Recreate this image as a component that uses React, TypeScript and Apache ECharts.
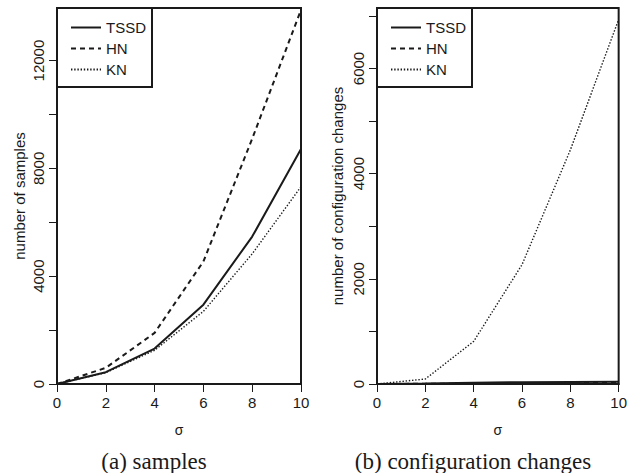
import React, { useEffect, useRef } from "react";
import * as echarts from "echarts";

const sigma = [0, 2, 4, 6, 8, 10];

const samplesTSSD = [0, 437, 1314, 2942, 5470, 8716];
const samplesHN = [0, 600, 1895, 4545, 9100, 13880];
const samplesKN = [0, 420, 1250, 2695, 4830, 7321];

const changesTSSD = [0, 10, 25, 35, 40, 45];
const changesHN = [0, 4, 8, 12, 16, 20];
const changesKN = [0, 95, 810, 2268, 4450, 6930];

const xTicks = [0, 2, 4, 6, 8, 10];
const leftLabels = [0, 4000, 8000, 12000];
const rightLabels = [0, 2000, 4000, 6000];

const seriesNames = ["TSSD", "HN", "KN"];
const captionA = "(a) samples";
const captionB = "(b) configuration changes";

const SANS = "Liberation Sans, Arial, Helvetica, sans-serif";
const SERIF = "Liberation Serif, Times New Roman, serif";
const INK = "#1a1a1a";

function pairs(xs: number[], ys: number[]) {
  return xs.map((x, i) => [x, ys[i]]);
}

export default function App() {
  const ref = useRef<HTMLDivElement>(null);

  useEffect(() => {
    document.body.style.margin = "0";
    if (!ref.current) return;
    const chart = echarts.init(ref.current, null, { renderer: "svg" });

    const styles: Record<string, any> = {
      TSSD: { color: INK, width: 2, type: "solid" },
      HN: { color: INK, width: 2, type: [5, 4] },
      KN: { color: INK, width: 1.4, type: [1.4, 1.8] },
    };

    const xAxisBase = (gridIndex: number) => ({
      type: "value",
      gridIndex,
      min: xTicks[0],
      max: xTicks[xTicks.length - 1],
      interval: 2,
      name: "σ",
      nameLocation: "middle",
      nameGap: 39,
      nameTextStyle: { fontFamily: SANS, fontSize: 14, color: INK },
      axisLine: { show: true, onZero: false, lineStyle: { color: INK, width: 2 } },
      axisTick: { show: true, length: 8, lineStyle: { color: INK, width: 1 } },
      axisLabel: {
        show: true,
        margin: 11,
        fontFamily: SANS,
        fontSize: 15,
        color: INK,
      },
      splitLine: { show: false },
    });

    const yAxisBase = (
      gridIndex: number,
      max: number,
      interval: number,
      labelStep: number,
      name: string,
      labels: number[],
      nameGap: number
    ) => ({
      type: "value",
      gridIndex,
      min: 0,
      max,
      interval,
      name,
      nameLocation: "middle",
      nameRotate: 90,
      nameGap,
      nameTextStyle: { fontFamily: SANS, fontSize: 15, color: INK },
      axisLine: { show: true, onZero: false, lineStyle: { color: INK, width: 2 } },
      axisTick: { show: true, length: 8, lineStyle: { color: INK, width: 1 } },
      axisLabel: {
        show: true,
        rotate: 90,
        margin: 11,
        fontFamily: SANS,
        fontSize: 15,
        color: INK,
        showMaxLabel: false,
        formatter: (v: number) =>
          labels.indexOf(v) >= 0 && v % labelStep === 0 ? String(v) : "",
      },
      splitLine: { show: false },
    });

    const mkSeries = (name: string, data: number[], idx: number) => ({
      name,
      type: "line",
      xAxisIndex: idx,
      yAxisIndex: idx,
      data: pairs(sigma, data),
      symbol: "none",
      showSymbol: false,
      lineStyle: styles[name],
      itemStyle: { color: INK },
      z: name === "TSSD" ? 4 : 3,
    });

    const legendBase = (left: number) => ({
      show: true,
      orient: "vertical",
      left,
      top: 8,
      data: seriesNames,
      itemWidth: 30,
      itemHeight: 14,
      itemGap: 6,
      padding: [12, 6, 10, 13],
      borderColor: INK,
      borderWidth: 2,
      borderRadius: 0,
      backgroundColor: "#fff",
      selectedMode: false,
      itemStyle: { opacity: 0, color: "transparent", borderWidth: 0 },
      textStyle: { fontFamily: SANS, fontSize: 15, color: INK },
    });

    chart.setOption({
      animation: false,
      backgroundColor: "#fff",
      grid: [
        {
          left: 57,
          top: 8,
          width: 244,
          height: 376,
          show: true,
          borderColor: INK,
          borderWidth: 2,
          backgroundColor: "transparent",
        },
        {
          left: 377,
          top: 8,
          width: 242,
          height: 376,
          show: true,
          borderColor: INK,
          borderWidth: 2,
          backgroundColor: "transparent",
        },
      ],
      xAxis: [xAxisBase(0), xAxisBase(1)],
      yAxis: [
        yAxisBase(0, 13950, 2000, 4000, "number of samples", leftLabels, 30),
        yAxisBase(1, 7150, 1000, 2000, "number of configuration changes", rightLabels, 32),
      ],
      legend: [legendBase(57), legendBase(377)],
      series: [
        mkSeries("TSSD", samplesTSSD, 0),
        mkSeries("HN", samplesHN, 0),
        mkSeries("KN", samplesKN, 0),
        mkSeries("TSSD", changesTSSD, 1),
        mkSeries("HN", changesHN, 1),
        mkSeries("KN", changesKN, 1),
      ],
      graphic: [
        {
          type: "text",
          x: 154,
          y: 461,
          style: {
            text: captionA,
            fontFamily: SERIF,
            fontSize: 23,
            fill: INK,
            textAlign: "center",
            textVerticalAlign: "middle",
          },
        },
        {
          type: "text",
          x: 473,
          y: 461,
          style: {
            text: captionB,
            fontFamily: SERIF,
            fontSize: 23,
            fill: INK,
            textAlign: "center",
            textVerticalAlign: "middle",
          },
        },
      ],
    });

    return () => chart.dispose();
  }, []);

  return <div ref={ref} style={{ width: 630, height: 473 }} />;
}
